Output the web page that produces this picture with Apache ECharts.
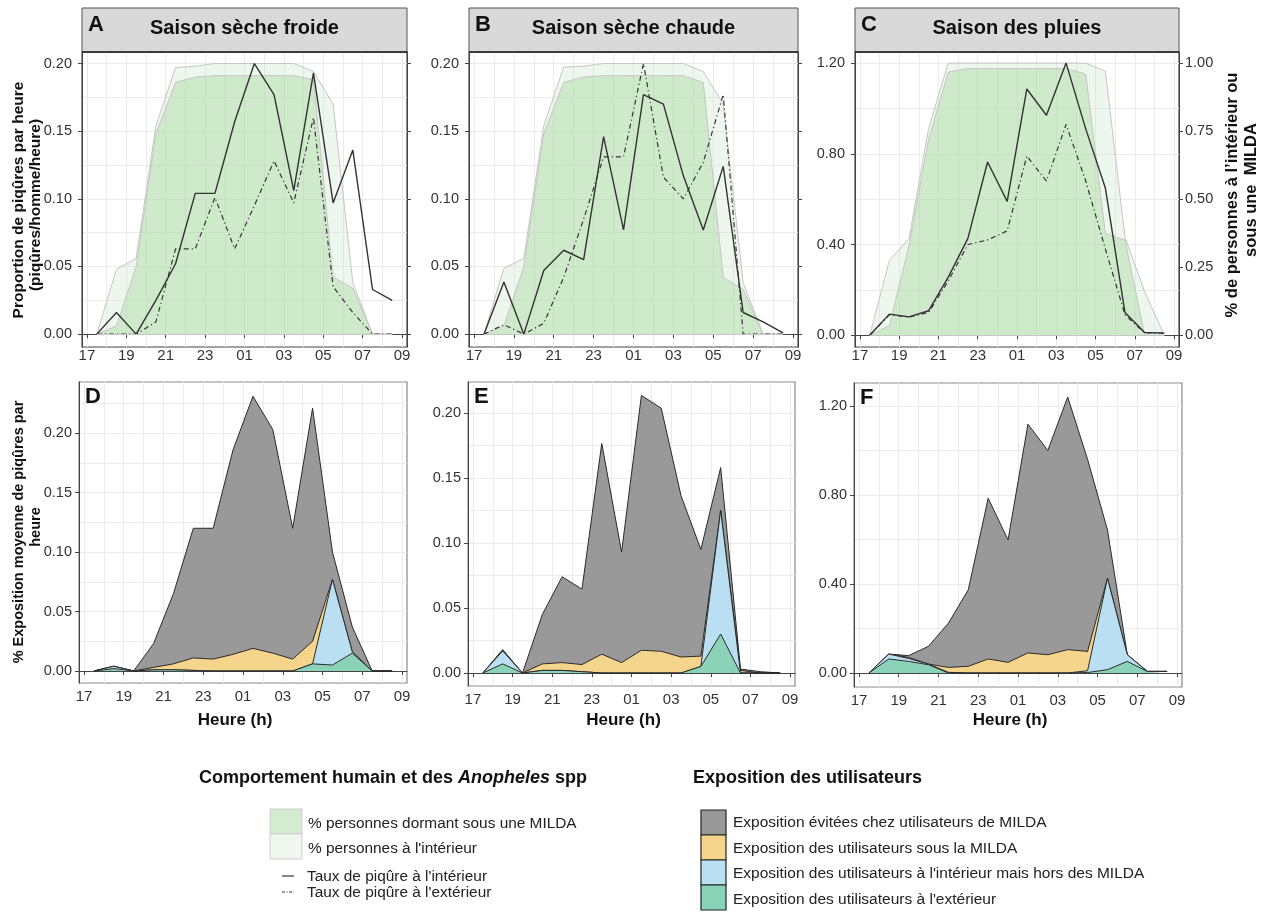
<!DOCTYPE html>
<html><head><meta charset="utf-8">
<script src="https://cdn.jsdelivr.net/npm/echarts@6/dist/echarts.min.js"></script>
<style>html,body{margin:0;padding:0;background:#fff}#c{width:1269px;height:912px}</style>
</head><body><div id="c"></div>
<script>
// ---------------- DATA ----------------
const hours = [17.5,18.5,19.5,20.5,21.5,22.5,23.5,24.5,25.5,26.5,27.5,28.5,29.5,30.5,31.5,32.5];
const xTickHours = [17,19,21,23,25,27,29,31,33];
const xGridHours = [17,18,19,20,21,22,23,24,25,26,27,28,29,30,31,32,33];
const seasonTitles = ['Saison sèche froide','Saison sèche chaude','Saison des pluies'];
const topLetters = ['A','B','C'];
const bottomLetters = ['D','E','F'];

const yTicksLow = [0,0.05,0.10,0.15,0.20];
const yGridLow = [0,0.025,0.05,0.075,0.10,0.125,0.15,0.175,0.20,0.225];
const yTicksHigh = [0,0.4,0.8,1.2];
const yGridHigh = [0,0.2,0.4,0.6,0.8,1.0,1.2];
const yTicksShare = [0,0.25,0.5,0.75,1.0];

// % of people indoors / under a net (fractions)
const insideA = [0,0.24,0.28,0.77,0.985,0.99,1,1,1,1,1,0.97,0.85,0.19,0,0];
const netA    = [0,0.03,0.25,0.74,0.93,0.95,0.955,0.955,0.955,0.955,0.955,0.94,0.21,0.17,0,0];
const insideB = [0,0.243,0.28,0.77,0.987,0.99,1,1,1,1,1,0.97,0.85,0.19,0,0];
const netB    = [0,0.03,0.25,0.74,0.93,0.95,0.955,0.955,0.955,0.955,0.955,0.93,0.21,0.165,0,0];
const insideC = [0,0.275,0.355,0.76,1,1,1,1,1,1,1,1,0.97,0.36,0.16,0];
const netC    = [0,0.035,0.33,0.72,0.967,0.98,0.98,0.98,0.98,0.98,0.98,0.96,0.374,0.35,0,0];

// biting rates
const biteInA  = [0,0.016,0,0.025,0.052,0.104,0.104,0.157,0.2,0.177,0.106,0.193,0.097,0.136,0.033,0.025];
const biteOutA = [0,0,0,0.009,0.063,0.063,0.101,0.063,0.095,0.128,0.097,0.16,0.035,0.016,0,0];
const biteInB  = [0,0.0385,0,0.047,0.062,0.055,0.146,0.077,0.177,0.17,0.117,0.077,0.124,0.016,0.009,0.001];
const biteOutB = [0,0.007,0,0.008,0.042,0.085,0.131,0.131,0.2,0.116,0.1,0.127,0.177,0,0,0];
const biteInC  = [0,0.093,0.081,0.108,0.256,0.427,0.764,0.59,1.086,0.97,1.2,0.91,0.649,0.1,0.012,0.009];
const biteOutC = [0,0.09,0.08,0.1,0.24,0.4,0.42,0.46,0.79,0.68,0.93,0.68,0.38,0.09,0.01,0.009];

// exposure components (bottom to top: outdoor, indoor outside net, under net, avoided)
const outdoorD  = [0,0.002,0,0.001,0.001,0.0005,0,0,0,0,0,0.006,0.005,0.015,0,0];
const indoorD   = [0,0.002,0,0,0,0,0,0,0,0,0,0,0.072,0.001,0,0];
const underNetD = [0,0,0,0.002,0.005,0.0105,0.01,0.014,0.019,0.015,0.01,0.019,0,0,0,0];
const avoidedD  = [0,0,0,0.020,0.059,0.109,0.110,0.172,0.212,0.188,0.110,0.196,0.023,0.021,0,0];

const outdoorE  = [0,0.007,0,0.002,0.002,0.001,0,0,0,0,0,0.005,0.030,0,0,0];
const indoorE   = [0,0.010,0,0,0,0,0,0,0,0,0,0,0.095,0,0,0];
const underNetE = [0,0,0,0.005,0.006,0.0055,0.0145,0.008,0.0175,0.0167,0.0123,0.008,0,0.002,0,0];
const avoidedE  = [0,0.001,0,0.038,0.066,0.058,0.162,0.085,0.196,0.187,0.124,0.082,0.033,0.001,0.001,0];

const outdoorF  = [0,0.063,0.052,0.037,0,0,0,0,0,0,0,0.002,0.015,0.052,0.007,0.007];
const indoorF   = [0,0.022,0.013,0.003,0.003,0,0,0,0,0,0,0.008,0.411,0.030,0,0];
const underNetF = [0,0,0.005,0,0.022,0.03,0.063,0.048,0.09,0.082,0.105,0.087,0,0,0,0];
const avoidedF  = [0,0,0.008,0.08,0.199,0.344,0.722,0.55,1.028,0.918,1.135,0.863,0.217,0,0,0];

const legend1Labels = ['% personnes dormant sous une MILDA','% personnes à l\'intérieur'];
const legend1LineLabels = ['Taux de piqûre à l\'intérieur','Taux de piqûre à l\'extérieur'];
const legend2Labels = ['Exposition évitées chez utilisateurs de MILDA','Exposition des utilisateurs sous la MILDA',
  'Exposition des utilisateurs à l\'intérieur mais hors des MILDA','Exposition des utilisateurs à l\'extérieur'];

// ---------------- STYLE / LAYOUT ----------------
const FONT = '"Liberation Sans", Arial, sans-serif';
const X_MIN = 16.75, X_MAX = 33.25;
const C_LIGHT = 'rgba(200,230,195,0.30)', C_DARK = 'rgba(165,215,158,0.42)', C_AREA_LINE = '#C6C6C6';
const C_LIGHT_KEY = '#F0F7EF', C_DARK_KEY = '#D3EBCF';
const C_GREY = '#999999', C_YEL = '#F5D48C', C_BLUE = '#BBDFF2', C_GREEN = '#8BD3B8';
const LINE_C = '#333333';
const DASHDOT = [5,3,1.2,3];
const TICK_FS = 14.5;

const topPanels = [
  {box:{left:82,top:52,width:325,height:295}, yMin:-0.0095, yMax:0.2085, ticks:yTicksLow, grid:yGridLow, share:5, inside:insideA, net:netA, bin:biteInA, bout:biteOutA, rightLabels:false},
  {box:{left:469,top:52,width:329,height:295}, yMin:-0.0095, yMax:0.2085, ticks:yTicksLow, grid:yGridLow, share:5, inside:insideB, net:netB, bin:biteInB, bout:biteOutB, rightLabels:false},
  {box:{left:855,top:52,width:324,height:295}, yMin:-0.052, yMax:1.249, ticks:yTicksHigh, grid:yGridHigh, share:1/1.2, inside:insideC, net:netC, bin:biteInC, bout:biteOutC, rightLabels:true}
];
const bottomPanels = [
  {box:{left:79,top:382,width:328,height:301}, yMin:-0.0101, yMax:0.243, ticks:yTicksLow, grid:yGridLow, parts:[outdoorD,indoorD,underNetD,avoidedD]},
  {box:{left:468,top:382,width:327,height:304}, yMin:-0.01, yMax:0.2238, ticks:yTicksLow, grid:yGridLow, parts:[outdoorE,indoorE,underNetE,avoidedE]},
  {box:{left:854,top:383,width:328,height:304}, yMin:-0.063, yMax:1.303, ticks:yTicksHigh, grid:yGridHigh, parts:[outdoorF,indoorF,underNetF,avoidedF]}
];
const partColors = [C_GREEN, C_BLUE, C_YEL, C_GREY];

function hourLabel(h){ const v = Math.round(h) % 24; return (v < 10 ? '0' : '') + v; }
const zip = arr => hours.map((h,i) => [h, arr[i]]);
// cumulative top of the first n components
const cumulate = (parts, n) => hours.map((h,i) => { let s = 0; for (let j = 0; j < n; j++) s += parts[j][i]; return +s.toFixed(5); });

const grids = [], xAxes = [], yAxes = [], series = [], graphics = [];

function addPanel(box, yMin, yMax, ticks, gridVals, borderColor, xMargin, yMargin){
  const gi = grids.length;
  grids.push({left:box.left, top:box.top, width:box.width, height:box.height, show:true,
    borderColor:borderColor, borderWidth:1.2, backgroundColor:'#fff'});
  const xi = xAxes.length;
  xAxes.push({type:'value', gridIndex:gi, min:X_MIN, max:X_MAX, position:'top',
    axisLine:{show:false}, axisTick:{show:false, customValues:xGridHours}, axisLabel:{show:false},
    splitLine:{show:true, lineStyle:{color:'#EBEBEB', width:1}}});
  xAxes.push({type:'value', gridIndex:gi, min:X_MIN, max:X_MAX, position:'bottom',
    axisLine:{show:true, lineStyle:{color:'#444', width:1}},
    axisTick:{show:true, customValues:xTickHours, length:4, lineStyle:{color:'#444'}},
    axisLabel:{show:true, customValues:xTickHours, formatter:hourLabel, color:'#333', fontSize:15, fontFamily:FONT, margin:xMargin},
    splitLine:{show:false}});
  const yi = yAxes.length;
  yAxes.push({type:'value', gridIndex:gi, min:yMin, max:yMax, position:'left',
    axisLine:{show:false}, axisTick:{show:false, customValues:gridVals.filter(v=>v<=yMax)}, axisLabel:{show:false},
    splitLine:{show:true, lineStyle:{color:'#EBEBEB', width:1}}});
  yAxes.push({type:'value', gridIndex:gi, min:yMin, max:yMax, position:'left',
    axisLine:{show:true, lineStyle:{color:'#444', width:1}},
    axisTick:{show:true, customValues:ticks, length:4, lineStyle:{color:'#444'}},
    axisLabel:{show:true, customValues:ticks, formatter:v=>v.toFixed(2), color:'#333', fontSize:TICK_FS, fontFamily:FONT, margin:yMargin},
    splitLine:{show:false}});
  return {gi, xi, yi: yi+1};
}

function txt(x, y, text, font, opts){
  return Object.assign({type:'text', x, y, silent:true, z:50,
    style:Object.assign({text, font, fill:'#111', align:'left', verticalAlign:'middle'}, (opts&&opts.style)||{})},
    opts && opts.rotation !== undefined ? {rotation:opts.rotation} : {});
}

// ---- top panels ----
topPanels.forEach((p, k) => {
  const a = addPanel(p.box, p.yMin, p.yMax, p.ticks, p.grid, '#444', 1, 10);
  const ri = yAxes.length;
  yAxes.push({type:'value', gridIndex:a.gi, min:p.yMin*p.share, max:p.yMax*p.share, position:'right',
    axisLine:{show:true, lineStyle:{color:'#444', width:1}},
    axisTick:{show:true, customValues:yTicksShare, length:4, lineStyle:{color:'#444'}},
    axisLabel:{show:p.rightLabels, customValues:yTicksShare, formatter:v=>v.toFixed(2), color:'#333', fontSize:TICK_FS, fontFamily:FONT, margin:6},
    splitLine:{show:false}});
  series.push({type:'line', xAxisIndex:a.xi, yAxisIndex:ri, data:zip(p.inside), symbol:'none', z:1,
    lineStyle:{color:C_AREA_LINE, width:1}, areaStyle:{color:C_LIGHT, opacity:1},
    markLine:{silent:true, symbol:'none', label:{show:false}, lineStyle:{color:C_AREA_LINE, type:'solid', width:1},
      data:[[{coord:[hours[0],0]},{coord:[hours[hours.length-1],0]}]]}});
  series.push({type:'line', xAxisIndex:a.xi, yAxisIndex:ri, data:zip(p.net), symbol:'none', z:2,
    lineStyle:{color:C_AREA_LINE, width:1}, areaStyle:{color:C_DARK, opacity:1}});
  series.push({type:'line', xAxisIndex:a.xi, yAxisIndex:a.yi, data:zip(p.bin), symbol:'none', z:4,
    lineStyle:{color:LINE_C, width:1.4}});
  series.push({type:'line', xAxisIndex:a.xi, yAxisIndex:a.yi, data:zip(p.bout), symbol:'none', z:3,
    lineStyle:{color:LINE_C, width:1.2, type:DASHDOT}});
  // strip
  const b = p.box;
  graphics.push({type:'rect', silent:true, z:40, shape:{x:b.left, y:8, width:b.width, height:b.top-8},
    style:{fill:'#D9D9D9', stroke:'#555', lineWidth:1}});
  graphics.push({type:'line', silent:true, z:41, shape:{x1:b.left, y1:b.top, x2:b.left+b.width, y2:b.top},
    style:{stroke:'#222', lineWidth:1.5}});
  graphics.push(txt(b.left + b.width/2, 28, seasonTitles[k], 'bold 20px ' + FONT, {style:{align:'center'}}));
  graphics.push(txt(b.left + 6, 25, topLetters[k], 'bold 22px ' + FONT));
});

// ---- bottom panels (cumulative areas drawn back to front) ----
bottomPanels.forEach((p, k) => {
  const a = addPanel(p.box, p.yMin, p.yMax, p.ticks, p.grid, '#8a8a8a', 6, 7);
  for (let n = p.parts.length; n >= 1; n--) {
    series.push({type:'line', xAxisIndex:a.xi, yAxisIndex:a.yi, data:zip(cumulate(p.parts, n)), symbol:'none',
      z:2 + (p.parts.length - n),
      lineStyle:{color:'#2a2a2a', width:1}, areaStyle:{color:partColors[n-1], opacity:1}});
  }
  const b = p.box;
  graphics.push(txt(b.left + 6, b.top + 15, bottomLetters[k], 'bold 22px ' + FONT));
  graphics.push(txt(b.left + b.width/2 - 8, 720, 'Heure (h)', 'bold 17px ' + FONT, {style:{align:'center'}}));
});

// axis titles
graphics.push(txt(19, 200, 'Proportion de piqûres par heure', 'bold 15.5px ' + FONT, {rotation:Math.PI/2, style:{align:'center'}}));
graphics.push(txt(36, 205, '(piqûres/homme/heure)', 'bold 15.5px ' + FONT, {rotation:Math.PI/2, style:{align:'center'}}));
graphics.push(txt(19, 532, '% Exposition moyenne de piqûres par', 'bold 14.5px ' + FONT, {rotation:Math.PI/2, style:{align:'center'}}));
graphics.push(txt(36, 527, 'heure', 'bold 14.5px ' + FONT, {rotation:Math.PI/2, style:{align:'center'}}));
graphics.push(txt(1232, 195, '% de personnes à l\u2019intérieur ou', 'bold 16.5px ' + FONT, {rotation:Math.PI/2, style:{align:'center'}}));
graphics.push(txt(1251, 190, 'sous une  MILDA', 'bold 16.5px ' + FONT, {rotation:Math.PI/2, style:{align:'center'}}));

// ---- legend 1 ----
graphics.push({type:'text', x:199, y:778, silent:true, z:50, style:{
  text:'{b|Comportement humain et des }{i|Anopheles}{b| spp}', verticalAlign:'middle',
  rich:{b:{font:'bold 18px ' + FONT, fill:'#111'}, i:{font:'italic bold 18px ' + FONT, fill:'#111'}}}});
[C_DARK_KEY, C_LIGHT_KEY].forEach((c, j) => {
  graphics.push({type:'rect', silent:true, z:45, shape:{x:270, y:809 + j*25, width:32, height:25},
    style:{fill:c, stroke:'#cfcfcf', lineWidth:1}});
  graphics.push(txt(308, 824 + j*25, legend1Labels[j], '15.4px ' + FONT, {style:{fill:'#222'}}));
});
[false, true].forEach((dash, j) => {
  graphics.push({type:'line', silent:true, z:45, shape:{x1:282, y1:876 + j*16, x2:294, y2:876 + j*16},
    style:{stroke:LINE_C, lineWidth:1.2, lineDash: dash ? [3,1.5,1,1.5] : null}});
  graphics.push(txt(307, 877 + j*16, legend1LineLabels[j], '15.4px ' + FONT, {style:{fill:'#222'}}));
});

// ---- legend 2 ----
graphics.push(txt(693, 778, 'Exposition des utilisateurs', 'bold 18px ' + FONT));
[C_GREY, C_YEL, C_BLUE, C_GREEN].forEach((c, j) => {
  graphics.push({type:'rect', silent:true, z:45, shape:{x:701, y:810 + j*25, width:25, height:25},
    style:{fill:c, stroke:'#222', lineWidth:1.2}});
  graphics.push(txt(733, 823 + j*25.5, legend2Labels[j], '15.5px ' + FONT, {style:{fill:'#222'}}));
});

const chart = echarts.init(document.getElementById('c'), null, {renderer:'canvas'});
chart.setOption({
  animation:false,
  backgroundColor:'#fff',
  grid:grids, xAxis:xAxes, yAxis:yAxes, series:series,
  graphic:{elements:graphics}
});
</script></body></html>
